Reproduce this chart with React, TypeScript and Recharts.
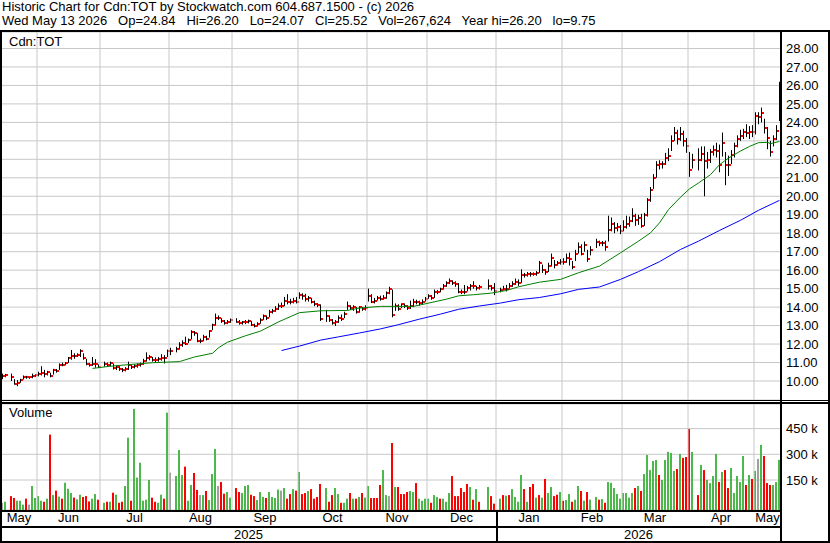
import React from 'react';
import { ComposedChart, Bar, Line, XAxis, YAxis, CartesianGrid, ReferenceLine } from 'recharts';

// one slot per weekday, 15 May 2025 .. 13 May 2026; null = exchange holiday
const months = ['May', 'Jun', 'Jul', 'Aug', 'Sep', 'Oct', 'Nov', 'Dec', 'Jan', 'Feb', 'Mar', 'Apr', 'May'];
const monthSlots = [12, 21, 23, 21, 22, 23, 20, 23, 22, 20, 22, 22, 9];
const years = ['2025', '2026'];
const yearMonthCount = [8, 5];

const closes = [
  10.28, 10.32, null, 10.24, 9.85, 9.88, 10.05, 10.22, 10.2, 10.2, 10.28, 10.3,
  10.38, 10.45, 10.4, 10.46, 10.28, 10.6, 10.52, 10.88, 10.86, 10.95, 11.22, 11.38, 11.33, 11.42, 11.65, 11.25, 10.92, 10.88, 10.9, 10.93, 10.76,
  null, 10.92, 10.86, 10.95, 10.7, 10.78, 10.64, 10.58, 10.66, 10.84, 10.74, 10.82, 10.84, 10.9, 11.08, 11.26, 11.3, 11.16, 11.12, 11.2, 11.26, 11.22, 11.6,
  11.6, null, 11.74, 11.95, 12.05, 12.0, 12.2, 12.65, 12.6, 12.18, 12.18, 12.38, 12.3, 12.7, 13.05, 13.42, 13.42, 13.25, 13.15, 13.2, 13.3,
  null, 13.22, 13.12, 13.18, 13.2, 13.25, 13.05, 12.98, 13.1, 13.3, 13.5, 13.4, 13.75, 13.8, 13.9, 14.08, 14.08, 14.35, 14.3, 14.25, 14.35, 14.3,
  14.67, 14.62, 14.45, 14.5, 14.3, 14.18, 14.1, 13.35, null, 13.5, 13.3, 13.14, 13.2, 13.4, 13.35, 13.62, 14.05, 13.95, 14.0, 13.75, 13.98, 13.88, 13.95,
  14.62, 14.3, 14.35, 14.48, 14.45, 14.5, 14.75, 14.96, 13.55, 14.04, 13.92, 14.15, 14.08, 13.95, 14.05, 14.3, 14.3, 14.2, 14.3, 14.45,
  14.62, 14.48, 14.84, 14.8, 14.96, 15.16, 15.29, 15.41, 15.3, 15.23, 14.84, 14.84, 14.84, 15.02, 15.14, 15.14, 15.02, 15.1, null, null, 15.16, 15.02, 14.86,
  null, 14.91, 15.0, 14.96, 15.15, 15.25, 15.35, 15.3, 15.75, 15.72, 15.8, 15.78, 15.78, 15.82, 16.4, 16.0, 15.9, 16.24, 16.64, 16.28, 16.4, 16.45,
  16.45, 16.64, 16.58, 16.18, 16.87, 17.27, 16.87, 17.36, 16.6, 17.1, null, 17.5, 17.45, 17.45, 17.24, 18.18, 18.5, 18.27, 18.36, 18.1,
  18.36, 18.5, 18.64, 18.95, 18.7, 18.82, 18.4, 19.0, 19.78, 20.33, 21.0, 21.67, 21.74, 21.75, 22.05, 22.2, 23.0, 23.45, 23.09, 23.38, 23.0, 22.7,
  21.42, 21.94, null, 21.94, 22.28, 21.9, 21.94, 22.38, 22.48, 22.43, 21.7, 22.88, 21.7, 21.67, 22.25, 22.73, 23.09, 23.27, 23.5, 23.45, 23.5, 23.47,
  24.35, 24.28, 24.53, 23.69, 23.18, 22.37, 23.1, 23.56, 25.52,
];

const highs = [
  10.4, 10.38, null, 10.4, 10.1, 10.05, 10.12, 10.3, 10.28, 10.25, 10.4, 10.36,
  10.5, 10.8, 10.6, 10.55, 10.45, 10.66, 10.65, 10.95, 11.0, 11.02, 11.3, 11.68, 11.5, 11.5, 11.72, 11.5, 11.2, 10.98, 11.3, 11.18, 10.9,
  null, 11.05, 11.0, 11.05, 10.95, 10.85, 10.8, 10.7, 10.75, 11.05, 10.9, 10.9, 10.95, 11.0, 11.2, 11.55, 11.4, 11.3, 11.28, 11.3, 11.45, 11.4, 11.7,
  11.8, null, 11.85, 12.1, 12.2, 12.4, 12.3, 12.75, 12.7, 12.6, 12.3, 12.5, 12.45, 12.75, 13.1, 13.65, 13.55, 13.4, 13.3, 13.3, 13.38,
  null, 13.4, 13.3, 13.25, 13.3, 13.32, 13.25, 13.1, 13.18, 13.4, 13.6, 13.55, 13.85, 13.9, 14.05, 14.2, 14.25, 14.55, 14.7, 14.45, 14.5, 14.55,
  14.8, 14.75, 14.72, 14.6, 14.5, 14.35, 14.22, 14.15, null, 13.85, 13.55, 13.35, 13.3, 13.55, 13.6, 13.75, 14.3, 14.1, 14.1, 14.0, 14.05, 14.0, 14.1,
  15.0, 14.7, 14.5, 14.6, 14.62, 14.65, 14.85, 15.1, 14.95, 14.2, 14.15, 14.2, 14.2, 14.1, 14.35, 14.45, 14.4, 14.35, 14.42, 14.55,
  14.7, 14.65, 14.95, 14.92, 15.05, 15.25, 15.4, 15.55, 15.45, 15.4, 15.3, 14.95, 15.2, 15.15, 15.25, 15.4, 15.15, 15.2, null, null, 15.5, 15.2, 15.3,
  null, 15.05, 15.15, 15.2, 15.3, 15.4, 15.55, 15.5, 16.05, 15.85, 15.9, 15.9, 15.88, 15.95, 16.5, 16.3, 16.05, 16.4, 16.9, 16.55, 16.5, 16.6,
  16.65, 16.9, 16.95, 16.5, 17.1, 17.5, 17.4, 17.55, 17.1, 17.3, null, 17.7, 17.6, 17.58, 17.6, 18.95, 18.85, 18.6, 18.55, 18.45,
  18.7, 18.95, 18.9, 19.35, 19.05, 19.0, 19.05, 19.1, 19.9, 20.5, 21.2, 21.9, 21.95, 21.9, 22.35, 22.6, 23.3, 23.75, 23.6, 23.75, 23.55, 23.15,
  22.4, 22.3, null, 22.6, 22.7, 22.7, 22.4, 22.55, 22.75, 22.9, 22.8, 23.45, 22.4, 22.2, 22.5, 22.9, 23.3, 23.6, 23.65, 23.9, 23.8, 23.85,
  24.55, 24.55, 24.8, 24.2, 23.75, 23.0, 23.3, 23.85, 26.2,
];

const lows = [
  10.1, 10.2, null, 10.0, 9.8, 9.72, 9.9, 10.08, 10.12, 10.12, 10.15, 10.22,
  10.25, 10.3, 10.2, 10.3, 10.2, 10.35, 10.45, 10.6, 10.8, 10.85, 10.98, 11.15, 11.2, 11.3, 11.3, 11.15, 10.85, 10.78, 10.82, 10.72, 10.7,
  null, 10.78, 10.78, 10.8, 10.62, 10.6, 10.55, 10.48, 10.52, 10.6, 10.65, 10.68, 10.72, 10.78, 10.88, 11.05, 11.12, 11.05, 11.0, 11.05, 11.1, 10.95, 11.3,
  11.4, null, 11.55, 11.7, 11.85, 11.95, 12.05, 12.25, 12.45, 12.1, 12.05, 12.15, 12.2, 12.35, 12.75, 13.0, 13.3, 13.15, 13.05, 13.08, 13.15,
  null, 13.15, 13.05, 13.05, 13.08, 13.12, 12.98, 12.9, 12.95, 13.1, 13.3, 13.3, 13.45, 13.65, 13.75, 13.85, 13.95, 14.05, 14.15, 14.15, 14.2, 14.2,
  14.45, 14.4, 14.3, 14.3, 14.2, 14.05, 14.0, 13.25, null, 13.2, 13.2, 13.05, 12.98, 13.15, 13.25, 13.4, 13.85, 13.85, 13.8, 13.65, 13.7, 13.8, 13.82,
  14.3, 14.22, 14.2, 14.35, 14.35, 14.4, 14.45, 14.7, 13.45, 13.8, 13.8, 13.95, 13.95, 13.85, 13.9, 14.0, 14.15, 14.08, 14.15, 14.3,
  14.45, 14.4, 14.5, 14.7, 14.8, 14.95, 15.1, 15.25, 15.2, 15.1, 14.75, 14.7, 14.7, 14.85, 14.9, 15.0, 14.9, 14.95, null, null, 14.95, 14.9, 14.65,
  null, 14.8, 14.9, 14.85, 15.0, 15.1, 15.2, 15.15, 15.3, 15.6, 15.65, 15.65, 15.7, 15.7, 15.85, 15.85, 15.75, 15.9, 16.2, 16.1, 16.25, 16.3,
  16.3, 16.4, 16.25, 16.05, 16.5, 16.9, 16.8, 17.0, 16.45, 16.8, null, 17.2, 17.3, 17.3, 17.05, 17.55, 18.1, 18.0, 18.1, 17.95,
  18.1, 18.25, 18.35, 18.6, 18.4, 18.45, 18.3, 18.4, 18.9, 19.7, 20.4, 21.0, 21.45, 21.5, 21.7, 21.9, 22.45, 23.0, 22.8, 23.0, 22.7, 22.35,
  21.05, 21.5, null, 21.4, 21.9, 20.0, 21.5, 21.8, 22.2, 22.1, 21.3, 22.15, 20.6, 21.1, 21.75, 22.1, 22.65, 23.0, 23.1, 23.2, 23.1, 23.2,
  23.35, 23.9, 24.0, 23.4, 22.55, 22.15, 22.7, 23.05, 24.07,
];

// thousands of shares
const volumes = [
  17, 23, null, 56, 45, 29, 29, 6, 41, 6, 115, 45,
  56, 29, 23, 41, 415, 62, 88, 53, 41, 134, 99, 74, 47, 37, 64, 51, 56, 25, 41, 68, 35,
  null, 17, 23, 23, 76, 64, 17, 23, 115, 397, 29, 565, 164, 251, 29, 35, 150, 47, 23, 17, 64, 41, 543,
  193, null, 173, 325, 179, 228, 29, 121, 191, 92, 62, 62, 86, 33, 185, 331, 115, 138, 70, 80, 47,
  null, 103, 80, 74, 115, 121, 64, 56, 33, 80, 51, 45, 80, 51, 45, 94, 88, 103, 41, 68, 97, 88,
  197, 68, 74, 86, 97, 41, 51, 127, null, 103, 23, 62, 103, 68, 17, 17, 41, 74, 41, 41, 51, 74, 47,
  115, 45, 45, 45, 121, 208, 62, 56, 366, 109, 109, 68, 68, 80, 86, 80, 132, 41, 29, 41,
  41, 17, 62, 51, 41, 41, 23, 74, 173, 56, 56, 103, 80, 127, 109, 35, 97, 23, null, null, 109, 56, 12,
  null, 41, 62, 58, 62, 97, 51, 23, 179, 97, 23, 109, 127, 47, 62, 47, 156, 74, 109, 56, 64, 80,
  29, 33, 68, 23, 35, 115, 86, 29, 80, 35, null, 51, 35, 39, 17, 138, 134, 103, 68, 41,
  74, 74, 47, 74, 103, 115, 86, 185, 296, 208, 261, 267, 179, 150, 267, 314, 308, 203, 214, 302, 279, 284,
  448, 314, null, 62, 238, 208, 150, 132, 173, 302, 138, 197, 208, 103, 220, 74, 173, 138, 290, 121, 179, 156,
  203, 273, 355, 290, 132, 121, 121, 138, 267.624,
];

// g = up, r = down, n = unchanged, - = holiday
const volDirs = [
  'ng-rrgggrngg',
  'ggrgrgrgrgggrggrrrggr',
  '-grgrgrrggrggggggrrggrg',
  'n-gggrggrrngrgggnrrgg',
  '-rrgggrrgggrggggngrrgr',
  'grrgrrrr-grrggrggrgrgrg',
  'grrrrggnrgrrrrggrggg',
  'grggrgggrrrrrrgrgr--grr',
  '-grgrggggrgrrgrgrggrrg',
  'rggrggrgrg-grgrggggg',
  'ggggrgrgggggrgggggrgrr',
  'rg-rgrggggrgrrgggggrgr',
  'gngrrrggg',
].join('');

const greenMaSlot = [30, 36, 43, 50, 59, 64, 70, 72, 75, 81, 86, 92, 99, 106, 115, 119, 126, 137, 141, 148, 152, 157, 163, 168, 172, 179, 186, 192, 199, 206, 212, 216, 219, 222, 226, 229, 232, 236, 239, 242, 246, 249, 252, 255, 256, 259];
const greenMa = [10.68, 10.8, 10.9, 10.99, 11.05, 11.3, 11.5, 11.8, 12.1, 12.45, 12.7, 13.2, 13.7, 13.8, 13.82, 13.95, 14.04, 14.04, 14.18, 14.43, 14.61, 14.67, 14.76, 14.9, 15.1, 15.35, 15.5, 15.86, 16.22, 16.94, 17.57, 18.02, 18.56, 19.28, 19.95, 20.4, 20.72, 21.17, 21.71, 22.07, 22.45, 22.7, 22.9, 22.92, 22.85, 22.97];
const blueMaSlot = [93, 99, 106, 112, 119, 126, 132, 139, 146, 152, 159, 166, 172, 179, 186, 192, 199, 206, 212, 219, 226, 232, 239, 246, 252, 259];
const blueMa = [11.65, 11.89, 12.21, 12.39, 12.6, 12.82, 13.05, 13.35, 13.62, 13.88, 14.06, 14.22, 14.4, 14.52, 14.72, 14.96, 15.09, 15.5, 15.92, 16.46, 17.12, 17.57, 18.15, 18.7, 19.24, 19.78];

const priceTicks = [10, 11, 12, 13, 14, 15, 16, 17, 18, 19, 20, 21, 22, 23, 24, 25, 26, 27, 28];
const volTicks = [150, 300, 450];

const P_MIN = 8.971;
const P_MAX = 28.893;
const V_MIN = -25.1;
const V_MAX = 593.6;
const SLOTS = closes.length;

const GRID = '#c8c8c8';
const FONT = '"Liberation Sans", Arial, sans-serif';
const VOL_COLORS: Record<string, string> = { g: '#4cb84c', r: '#ff0000', n: '#a0a0a0' };

const monthStart: number[] = [];
monthSlots.reduce((acc, n) => { monthStart.push(acc); return acc + n; }, 0);
const monthMid = monthStart.map((s, i) => s + monthSlots[i] / 2);
const yearStart: number[] = [];
yearMonthCount.reduce((acc, n) => { yearStart.push(acc); return acc + n; }, 0);
const yearBounds = yearStart.map((m, i) => [monthStart[m], i + 1 < yearStart.length ? monthStart[yearStart[i + 1]] : SLOTS]);
const yearMid = yearBounds.map(([a, b]) => (a + b) / 2);

const rows = closes.map((cl, s) => ({
  x: s + 0.5,
  cl,
  hi: highs[s],
  lo: lows[s],
  vol: volumes[s],
  dir: volDirs[s],
  maG: null as number | null,
  maB: null as number | null,
}));
greenMaSlot.forEach((s, i) => { rows[s].maG = greenMa[i]; });
blueMaSlot.forEach((s, i) => { rows[s].maB = blueMa[i]; });

const OhlcBar = (props: any) => {
  const { x, y, width, height, payload } = props;
  if (!payload || payload.cl == null) return null;
  const top = Math.min(y, y + height);
  const h = Math.abs(height);
  const cx = Math.floor(x + width / 2);
  const span = payload.hi - payload.lo;
  const cy = span > 0 ? top + ((payload.hi - payload.cl) / span) * h : top;
  return (
    <g>
      <rect x={cx} y={top} width={1} height={Math.max(h, 1)} fill="#000" />
      <rect x={cx + 1} y={Math.round(cy) - 1} width={2} height={2} fill="#ff0000" />
    </g>
  );
};

const VolBar = (props: any) => {
  const { x, y, width, height, payload } = props;
  if (!payload || payload.vol == null) return null;
  const top = Math.min(y, y + height);
  const cx = Math.floor(x + width / 2);
  return <rect x={cx - 1} y={top} width={2} height={Math.abs(height)} fill={VOL_COLORS[payload.dir] || '#a0a0a0'} />;
};

const line = (style: React.CSSProperties) => (
  <div style={{ position: 'absolute', background: '#000', ...style }} />
);

const textStyle: React.CSSProperties = {
  position: 'absolute',
  fontSize: 13,
  lineHeight: '14px',
  whiteSpace: 'pre',
  color: '#000',
};

export default function App() {
  const janSlot = monthStart[yearStart[1]];
  return (
    <div style={{ position: 'absolute', left: 0, top: 0, width: 830, height: 543, background: '#fff', fontFamily: FONT, overflow: 'hidden' }}>
      <div style={{ ...textStyle, left: 2, top: 0 }}>Historic Chart for Cdn:TOT by Stockwatch.com 604.687.1500 - (c) 2026</div>
      <div style={{ ...textStyle, left: 2, top: 14 }}>Wed May 13 2026   Op=24.84   Hi=26.20   Lo=24.07   Cl=25.52   Vol=267,624   Year hi=26.20   lo=9.75</div>

      <div style={{ position: 'absolute', left: 0, top: 32 }}>
        <ComposedChart width={830} height={368} data={rows} margin={{ top: 0, right: 0, bottom: 0, left: 1 }}>
          <XAxis type="number" dataKey="x" domain={[0, SLOTS]} hide allowDataOverflow />
          <YAxis
            orientation="right"
            width={49}
            domain={[P_MIN, P_MAX]}
            ticks={priceTicks}
            allowDataOverflow
            axisLine={false}
            tickLine={false}
            tickSize={0}
            tickMargin={5}
            interval={0}
            tick={{ fontSize: 13, fill: '#000', fontFamily: FONT, textAnchor: 'start' }}
            tickFormatter={(v: number) => v.toFixed(2)}
          />
          <CartesianGrid vertical={false} stroke={GRID} />
          {monthStart.slice(1).map((s) => (
            <ReferenceLine key={s} x={s} stroke={GRID} />
          ))}
          <Bar dataKey={(d: any) => (d.cl == null ? null : [d.lo, d.hi])} barSize={3} shape={<OhlcBar />} isAnimationActive={false} />
          <Line dataKey="maG" type="linear" stroke="#008000" strokeWidth={1} dot={false} activeDot={false} connectNulls isAnimationActive={false} />
          <Line dataKey="maB" type="linear" stroke="#0000ff" strokeWidth={1} dot={false} activeDot={false} connectNulls isAnimationActive={false} />
        </ComposedChart>
      </div>

      <div style={{ position: 'absolute', left: 0, top: 404 }}>
        <ComposedChart width={830} height={139} data={rows} margin={{ top: 0, right: 0, bottom: 0, left: 1 }}>
          <XAxis
            xAxisId="m"
            type="number"
            dataKey="x"
            domain={[0, SLOTS]}
            allowDataOverflow
            ticks={monthMid}
            interval={0}
            height={17}
            axisLine={false}
            tickLine={false}
            tickSize={0}
            tickMargin={3}
            tick={{ fontSize: 13, fill: '#000', fontFamily: FONT }}
            tickFormatter={(_v: number, i: number) => months[i]}
          />
          <XAxis
            xAxisId="y"
            type="number"
            dataKey="x"
            domain={[0, SLOTS]}
            allowDataOverflow
            ticks={yearMid}
            interval={0}
            height={16}
            axisLine={false}
            tickLine={false}
            tickSize={0}
            tickMargin={3}
            tick={{ fontSize: 13, fill: '#000', fontFamily: FONT }}
            tickFormatter={(_v: number, i: number) => years[i]}
          />
          <YAxis
            orientation="right"
            width={49}
            domain={[V_MIN, V_MAX]}
            ticks={volTicks}
            allowDataOverflow
            axisLine={false}
            tickLine={false}
            tickSize={0}
            tickMargin={5}
            interval={0}
            tick={{ fontSize: 13, fill: '#000', fontFamily: FONT, textAnchor: 'start' }}
            tickFormatter={(v: number) => `${v} k`}
          />
          <CartesianGrid vertical={false} stroke={GRID} xAxisId="m" />
          {monthStart.slice(1).map((s) => (
            <ReferenceLine key={s} x={s} xAxisId="m" stroke={GRID} />
          ))}
          <Bar xAxisId="m" dataKey={(d: any) => (d.vol == null ? null : [V_MIN, d.vol])} barSize={2} shape={<VolBar />} isAnimationActive={false} />
        </ComposedChart>
      </div>

      <div style={{ ...textStyle, left: 9, top: 35 }}>Cdn:TOT</div>
      <div style={{ ...textStyle, left: 9, top: 406 }}>Volume</div>

      {line({ left: 0, top: 30, width: 830, height: 2 })}
      {line({ left: 0, top: 30, width: 2, height: 513 })}
      {line({ left: 780, top: 30, width: 2, height: 513 })}
      {line({ left: 828, top: 30, width: 2, height: 513 })}
      {line({ left: 0, top: 400, width: 830, height: 1 })}
      {line({ left: 0, top: 402, width: 830, height: 2 })}
      {line({ left: 0, top: 510, width: 782, height: 2 })}
      {line({ left: 0, top: 526, width: 782, height: 2 })}
      {line({ left: 0, top: 541, width: 830, height: 2 })}
      {line({ left: 1 + janSlot * 3, top: 510, width: 2, height: 33 })}
    </div>
  );
}
